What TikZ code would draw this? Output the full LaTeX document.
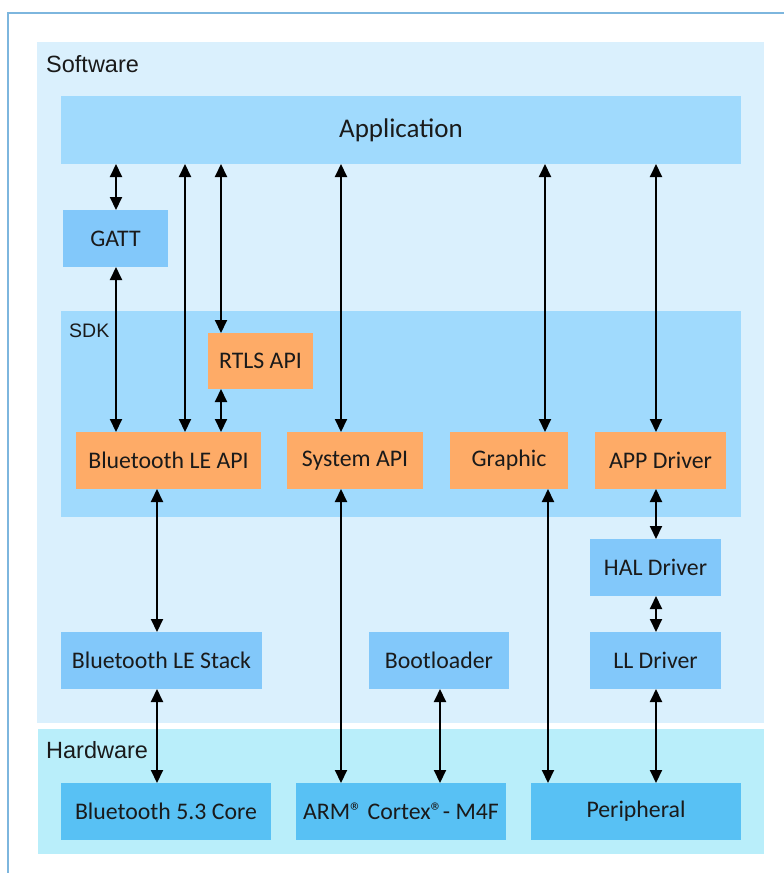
\documentclass[tikz,border=0pt]{standalone}
\usepackage{fontspec}
\setmainfont{Carlito}
\newfontfamily\arialfont{Liberation Sans}
\usetikzlibrary{arrows.meta}
\definecolor{frameblue}{HTML}{7DB6DE}
\definecolor{swbg}{HTML}{DAF0FD}
\definecolor{hwbg}{HTML}{B9EEFA}
\definecolor{layerblue}{HTML}{A0DAFD}
\definecolor{midblue}{HTML}{82C8FA}
\definecolor{orangebox}{HTML}{FEAB67}
\definecolor{hwbox}{HTML}{58C1F4}
\definecolor{txt}{HTML}{1A1A1A}
\newcommand{\regmark}{{\fontsize{24}{24}\selectfont ®}}
\tikzset{
  region/.style={fill=#1, draw=none, anchor=north west, inner sep=0pt, outer sep=0pt},
  blk/.style={fill=#1, draw=none, anchor=north west, inner sep=0pt, outer sep=0pt,
     text=txt, font=\fontsize{23.8}{27}\selectfont, align=center},
  lbl/.style={anchor=west, inner sep=0pt, text=txt, font=\arialfont\fontsize{23.5}{27}\selectfont},
  biarrow/.style={line width=2pt, draw=black, {Triangle[length=13pt,width=12pt]}-{Triangle[length=13pt,width=12pt]}},
}
\begin{document}
\begin{tikzpicture}[x=1pt,y=-1pt]
\useasboundingbox (0,0) rectangle (784,873);
\clip (0,0) rectangle (784,873);
\fill[white] (0,0) rectangle (784,873);
% outer frame
\draw[frameblue, line width=2pt] (8,880) -- (8,13) -- (790,13);
% regions
\node[region=swbg, minimum width=727pt, minimum height=681pt] (sw) at (37,42) {};
\node[region=hwbg, minimum width=726pt, minimum height=125pt] (hw) at (38,729) {};
\node[lbl] (swlbl) at (46,64) {Software};
\node[lbl] (hwlbl) at (46,750) {Hardware};
\node[region=layerblue, minimum width=680pt, minimum height=206pt] (sdk) at (61,311) {};
\node[lbl, font=\arialfont\fontsize{19.5}{22}\selectfont] (sdklbl) at (69,331) {SDK};
% boxes
\node[blk=layerblue, minimum width=680pt, minimum height=68pt, font=\fontsize{27}{31}\selectfont] (app) at (61,96) {Application};
\node[blk=midblue, minimum width=105pt, minimum height=57pt] (gatt) at (63,210) {GATT};
\node[blk=orangebox, minimum width=105pt, minimum height=56pt] (rtls) at (208,333) {RTLS API};
\node[blk=orangebox, minimum width=185pt, minimum height=57pt] (bleapi) at (76,432) {Bluetooth LE API};
\node[blk=orangebox, minimum width=136pt, minimum height=57pt] (sysapi) at (287,432) {System API};
\node[blk=orangebox, minimum width=118pt, minimum height=57pt] (graphic) at (450,432) {Graphic};
\node[blk=orangebox, minimum width=131pt, minimum height=57pt] (appdrv) at (595,432) {APP Driver};
\node[blk=midblue, minimum width=131pt, minimum height=57pt] (haldrv) at (590,539) {HAL Driver};
\node[blk=midblue, minimum width=131pt, minimum height=57pt] (lldrv) at (590,632) {LL Driver};
\node[blk=midblue, minimum width=201pt, minimum height=57pt] (blestack) at (61,632) {Bluetooth LE Stack};
\node[blk=midblue, minimum width=140pt, minimum height=57pt] (boot) at (369,632) {Bootloader};
\node[blk=hwbox, minimum width=210pt, minimum height=57pt] (btcore) at (61,783) {Bluetooth 5.3 Core};
\node[blk=hwbox, minimum width=210pt, minimum height=57pt] (arm) at (296,783) {ARM\regmark\ Cortex\regmark- M4F};
\node[blk=hwbox, minimum width=210pt, minimum height=57pt] (periph) at (531,783) {Peripheral};
% column coordinates
\coordinate (cA) at (116,0);
\coordinate (cB) at (185,0);
\coordinate (cC) at (221,0);
\coordinate (cD) at (341,0);
\coordinate (cE) at (545,0);
\coordinate (cF) at (656,0);
\coordinate (cG) at (157,0);
\coordinate (cH) at (440,0);
\coordinate (cI) at (548,0);
% connectors
\draw[biarrow] (app.south -| cA) -- (gatt.north -| cA);
\draw[biarrow] (gatt.south -| cA) -- (bleapi.north -| cA);
\draw[biarrow] (app.south -| cB) -- (bleapi.north -| cB);
\draw[biarrow] (app.south -| cC) -- (rtls.north -| cC);
\draw[biarrow] (rtls.south -| cC) -- (bleapi.north -| cC);
\draw[biarrow] (app.south -| cD) -- (sysapi.north -| cD);
\draw[biarrow] (app.south -| cE) -- (graphic.north -| cE);
\draw[biarrow] (app.south -| cF) -- (appdrv.north -| cF);
\draw[biarrow] (bleapi.south -| cG) -- (blestack.north -| cG);
\draw[biarrow] (blestack.south -| cG) -- (btcore.north -| cG);
\draw[biarrow] (sysapi.south -| cD) -- (arm.north -| cD);
\draw[biarrow] (boot.south -| cH) -- (arm.north -| cH);
\draw[biarrow] (graphic.south -| cI) -- (periph.north -| cI);
\draw[biarrow] (appdrv.south -| cF) -- (haldrv.north -| cF);
\draw[biarrow] (haldrv.south -| cF) -- (lldrv.north -| cF);
\draw[biarrow] (lldrv.south -| cF) -- (periph.north -| cF);
\end{tikzpicture}
\end{document}
